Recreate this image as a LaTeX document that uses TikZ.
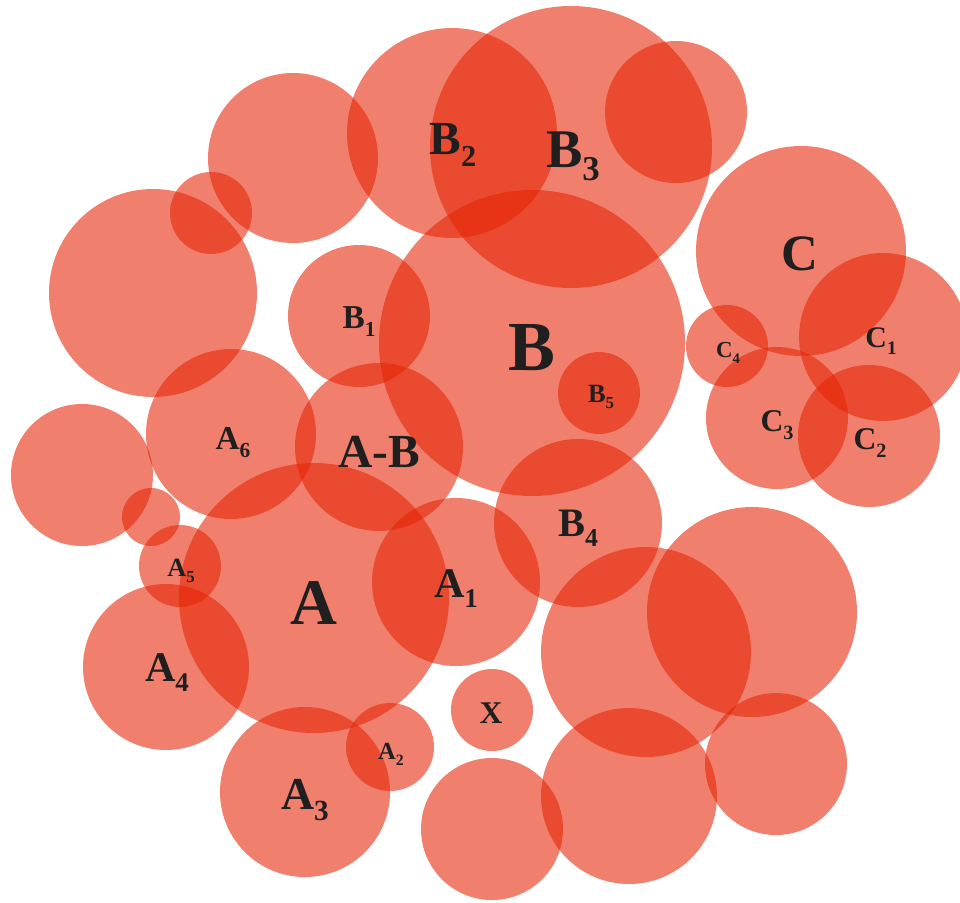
\documentclass[tikz,border=0pt]{standalone}
\usepackage{graphicx}
\usepackage{fontspec}
\setmainfont{Liberation Serif}
\usepackage{tikz}

\definecolor{blob}{RGB}{229,36,4}
\newcommand{\ssub}[1]{\raisebox{-0.24em}{\scalebox{0.64}{#1}}}

\begin{document}
\begin{tikzpicture}[x=0.2mm,y=-0.2mm,
  disc/.style={fill=blob, fill opacity=0.58},
  lbl/.style={text=black!88, inner sep=0pt, font=\bfseries\fontsize{#1}{#1}\selectfont}]
\useasboundingbox (0,0) rectangle (960,902);
\foreach \cx/\cy/\r in {293/158/85, 211/213/41, 153/293/104, 452/133/105, 571/147/141,
  676/112/71, 801/251/105, 883/337/84, 727/346/41, 777/418/71, 869/436/71,
  532/343/153, 359/316/71, 599/393/41, 231/434/85, 379/447/84, 82/475/71,
  151/517/29, 180/566/41, 314/598/135, 456/582/84, 578/523/84, 166/667/83,
  646/652/105, 752/612/105, 492/710/41, 390/747/44, 305/792/85, 492/829/71,
  629/796/88, 776/764/71}
  \fill [disc] (\cx,\cy) circle [radius=\r];
\node [lbl=27] (b2) at (453,145) {B\ssub{2}};
\node [lbl=31] (b3) at (573,156) {B\ssub{3}};
\node [lbl=29] (c) at (800,254) {C};
\node [lbl=17] (c1) at (881,341) {C\ssub{1}};
\node [lbl=13] (c4) at (728,353) {C\ssub{4}};
\node [lbl=18] (c3) at (777,425) {C\ssub{3}};
\node [lbl=18] (c2) at (870,443) {C\ssub{2}};
\node [lbl=40] (b) at (532,348) {B};
\node [lbl=19] (b1) at (359,322) {B\ssub{1}};
\node [lbl=15] (b5) at (601,397) {B\ssub{5}};
\node [lbl=19] (a6) at (233,443) {A\ssub{6}};
\node [lbl=27] (ab) at (379,452) {A-B};
\node [lbl=15] (a5) at (181,571) {A\ssub{5}};
\node [lbl=37] (a) at (314,603) {A};
\node [lbl=24] (a1) at (456,589) {A\ssub{1}};
\node [lbl=23] (b4) at (578,528) {B\ssub{4}};
\node [lbl=24] (a4) at (167,673) {A\ssub{4}};
\node [lbl=18] (x) at (491,713) {X};
\node [lbl=14] (a2) at (391,754) {A\ssub{2}};
\node [lbl=26] (a3) at (305,800) {A\ssub{3}};
\end{tikzpicture}
\end{document}
